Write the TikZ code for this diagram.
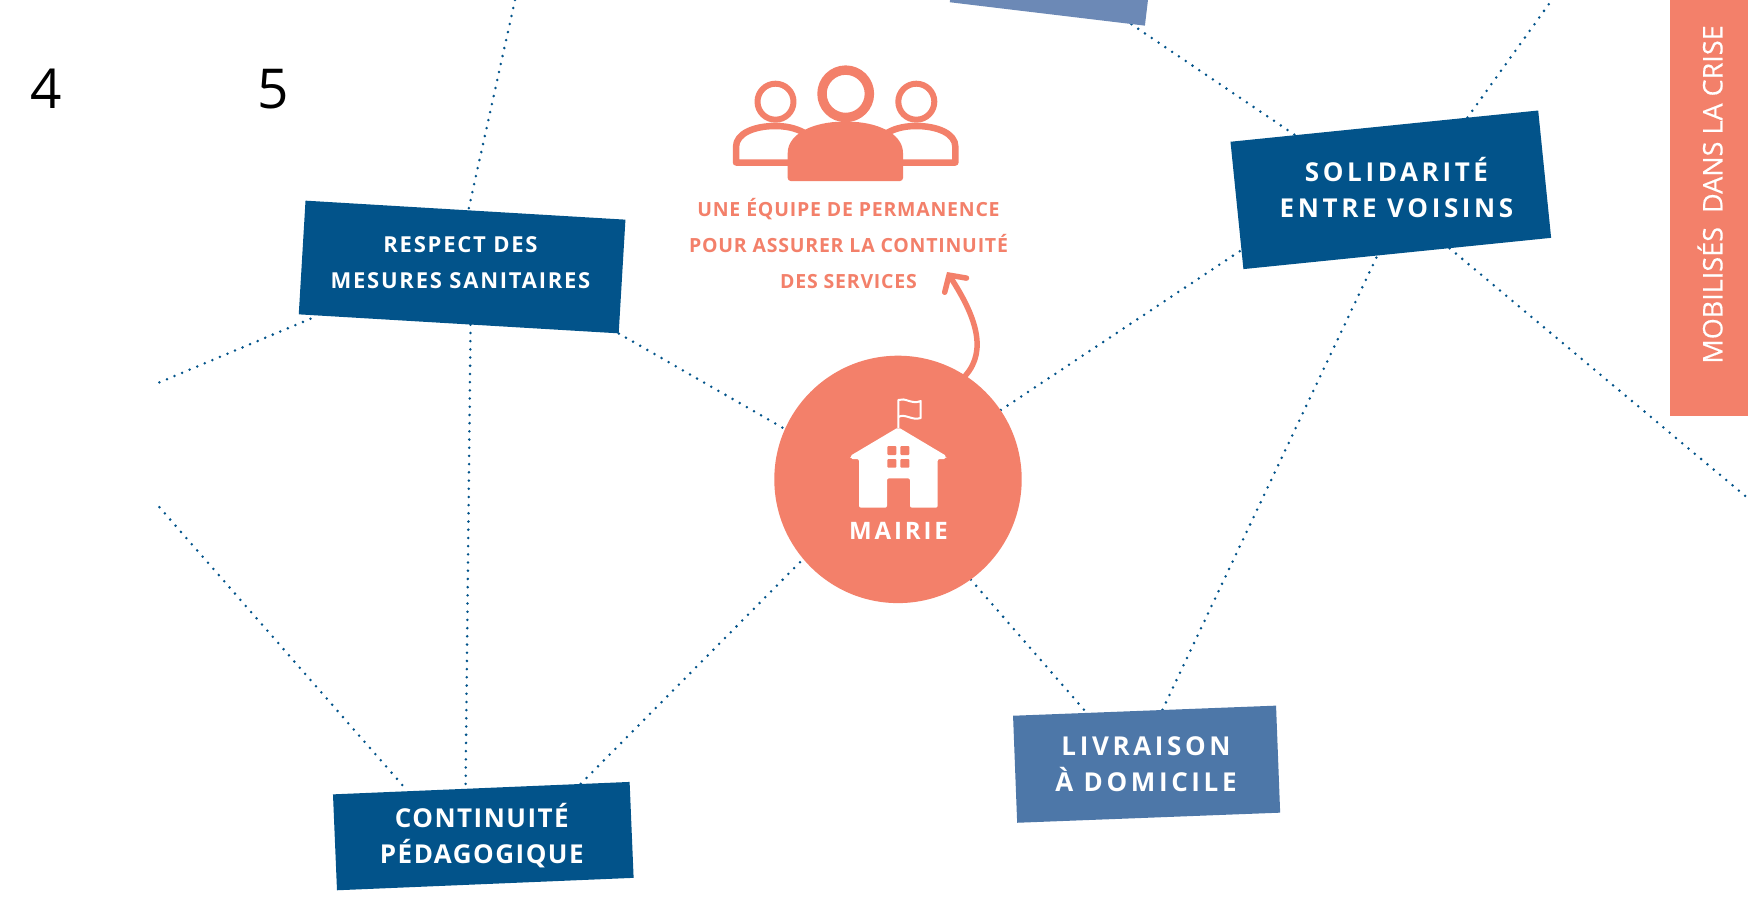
\documentclass[tikz,border=0pt]{standalone}
\usepackage{fontspec}
\usetikzlibrary{calc,arrows.meta,backgrounds}
\setmainfont{Open Sans}
\newfontfamily\lsRespect[LetterSpace=8]{Open Sans}
\newfontfamily\lsCont[LetterSpace=5.7]{Open Sans}
\newfontfamily\lsCap[LetterSpace=4]{Open Sans}
\newfontfamily\lsWide[LetterSpace=14]{Open Sans}
\newfontfamily\lsMairie[LetterSpace=12]{Open Sans}
\newfontfamily\sideface[FakeBold=0.3]{Open Sans}
\definecolor{salmon}{HTML}{F3806A}
\definecolor{navy}{HTML}{02538A}
\definecolor{steel}{HTML}{4D77A8}
\definecolor{paleblue}{HTML}{6C89B6}
\tikzset{
  tag/.style={inner sep=0pt,fill=navy},
  taglabel/.style={align=center,text=white,inner sep=0pt},
  link/.style={navy,line width=2.8pt,line cap=round,dash pattern=on 0pt off 8.2pt},
  iconline/.style={salmon,line join=round,line cap=round},
}
\begin{document}
\begin{tikzpicture}[x=1pt,y=-1pt]
\useasboundingbox (0,0) rectangle (1748,899);
\clip (0,0) rectangle (1748,899);

% Boxes
\node[tag,fill=paleblue,minimum width=196.5pt,minimum height=100pt,rotate=-6.84] (top) at (1053.3,-35.7) {};
\node[tag,minimum width=320.5pt,minimum height=113.9pt,rotate=-3.4] (respect) at (462.1,267) {};
\node[tag,minimum width=296.9pt,minimum height=96pt,rotate=2.4] (continuite) at (483.3,836.1) {};
\node[tag,fill=steel,minimum width=263.2pt,minimum height=107.1pt,rotate=2.2] (livraison) at (1146.6,764.2) {};
\node[tag,minimum width=309.3pt,minimum height=128pt,rotate=5.8] (solidarite) at (1390.8,189.8) {};
\node[circle,fill=salmon,minimum size=247.4pt,inner sep=0pt] (mairie) at (898,479.4) {};

% Box labels
\node[taglabel,font=\lsRespect\bfseries\fontsize{22}{36}\selectfont] (respectlabel) at (460.5,263) {RESPECT DES\\MESURES SANITAIRES};
\node[taglabel,font=\lsCont\bfseries\fontsize{26}{36}\selectfont] (continuitelabel) at (481.8,835.5) {CONTINUITÉ\\PÉDAGOGIQUE};
\node[taglabel,font=\lsWide\bfseries\fontsize{26}{36}\selectfont] (livraisonlabel) at (1146,764.5) {LIVRAISON\\À DOMICILE};
\node[taglabel,font=\lsWide\bfseries\fontsize{26}{36}\selectfont] (solidaritelabel) at (1396.5,187.5) {SOLIDARITÉ\\ENTRE VOISINS};

% Sidebar
\node[fill=salmon,minimum width=78pt,minimum height=416pt,inner sep=0pt] (sidebar) at (1709,208) {};
\node[rotate=90,text=white,font=\sideface\fontsize{27}{32}\selectfont] (sidelabel) at (1710,194.5) {MOBILISÉS\ \ DANS LA CRISE};

% Free ends
\coordinate (freeA) at (515,0);
\coordinate (freeB) at (159.4,382.4);
\coordinate (freeC) at (159.4,507.2);
\coordinate (freeD) at (1551.8,0);
\coordinate (freeE) at (1748,498.3);
\coordinate (arrowtip) at (947,272);

% Connectors
\begin{scope}[on background layer]
\fill[white] (0,0) rectangle (1748,899);
\draw[link] (freeA) -- ($(respect.north west)!.509!(respect.north east)$);
\draw[link] (freeB) -- ($(respect.south west)!.06!(respect.south east)$);
\draw[link] ($(respect.south west)!.537!(respect.south east)$) -- ($(continuite.north west)!.447!(continuite.north east)$);
\draw[link] (respect.south east) -- (mairie.156.3);
\draw[link] (freeC) -- ($(continuite.north west)!.252!(continuite.north east)$);
\draw[link] ($(continuite.north west)!.835!(continuite.north east)$) -- (mairie.220.5);
\draw[link] (mairie.-54.3) -- ($(livraison.north west)!.28!(livraison.north east)$);
\draw[link] ($(livraison.north west)!.568!(livraison.north east)$) -- ($(solidarite.south west)!.435!(solidarite.south east)$);
\draw[link] (mairie.34.5) -- ($(solidarite.north west)!.85!(solidarite.south west)$);
\draw[link] ($(top.south west)!.93!(top.south east)$) -- ($(solidarite.north west)!.21!(solidarite.north east)$);
\draw[link] ($(solidarite.north west)!.77!(solidarite.north east)$) -- (freeD);
\draw[link] ($(solidarite.south west)!.67!(solidarite.south east)$) -- (freeE);
\end{scope}

% Numbers
\node[text=black,font=\fontsize{55}{60}\selectfont] (four) at (46.5,89) {4};
\node[text=black,font=\fontsize{55}{60}\selectfont] (five) at (273,89) {5};

% Group icon
\draw[iconline,line width=9.4pt] (845.7,93.8) circle (23.7);
\draw[iconline,line width=6pt] (775.5,101.7) circle (18);
\draw[iconline,line width=6pt] (916.3,101.7) circle (18);
\draw[iconline,line width=6.5pt] (790,162.5) -- (736,162.5) -- (736,147) .. controls (736,133) and (755,126) .. (775.3,126) .. controls (790,126) and (800,130) .. (806,134);
\draw[iconline,line width=6.5pt] (901.4,162.5) -- (955.4,162.5) -- (955.4,147) .. controls (955.4,133) and (936.4,126) .. (916.1,126) .. controls (901.4,126) and (891.4,130) .. (885.4,134);
\fill[salmon,rounded corners=3pt] (787.7,181) -- (787.7,156) -- (787.7,156) .. controls (787.7,133) and (815,121.7) .. (845.3,121.7) .. controls (876,121.7) and (903,133) .. (903,156) -- (903,181) -- cycle;

% Caption
\node[text=salmon,align=center,font=\lsCap\bfseries\fontsize{19.5}{36.3}\selectfont] (caption) at (848.5,243.5) {UNE ÉQUIPE DE PERMANENCE\\POUR ASSURER LA CONTINUITÉ\\DES SERVICES};

% Arrow
\draw[salmon,line width=5.5pt,line cap=round,line join=round,-{Straight Barb[length=12pt,width=26pt,line cap=round]}] (mairie.57.2) .. controls (988,350) and (975,315) .. (arrowtip);

% House icon
\fill[white,rounded corners=2pt] (898.3,427.3) -- (946.5,456) -- (946,459) -- (937.7,459) -- (937.7,507.7) -- (910,507.7) -- (910,478.3) -- (887,478.3) -- (887,507.7) -- (859,507.7) -- (859,459) -- (850.5,459) -- (850,456) -- cycle;
\fill[salmon,rounded corners=1pt] (887.3,446) rectangle (896.3,455);
\fill[salmon,rounded corners=1pt] (900.3,446) rectangle (909.3,455);
\fill[salmon,rounded corners=1pt] (887.3,459) rectangle (896.3,467.7);
\fill[salmon,rounded corners=1pt] (900.3,459) rectangle (909.3,467.7);
\draw[white,line width=2pt,line join=round] (898.3,428) -- (898.3,400) .. controls (905,397) and (912,405) .. (920.7,401) -- (920.7,418) .. controls (912,421) and (905,413) .. (898.3,417);
\node[text=white,font=\lsMairie\bfseries\fontsize{24}{28}\selectfont] (mairielabel) at (898.5,531) {MAIRIE};
\end{tikzpicture}
\end{document}
